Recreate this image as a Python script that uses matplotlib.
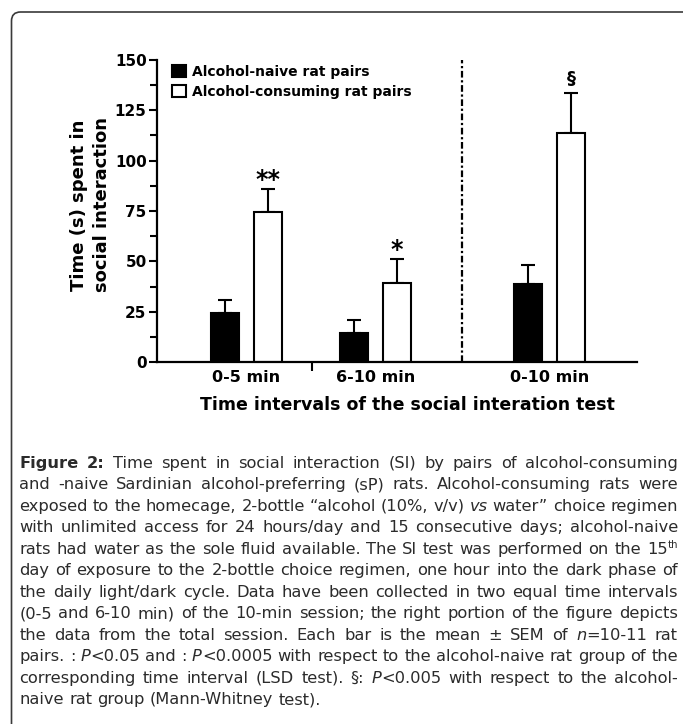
import re
import matplotlib
matplotlib.use('Agg')
import matplotlib.pyplot as plt
from matplotlib.patches import FancyBboxPatch, Patch
from matplotlib.ticker import MultipleLocator, FixedLocator, NullFormatter
from matplotlib.transforms import IdentityTransform

# ---------------- data ----------------
categories = ['0-5 min', '6-10 min', '0-10 min']
naive_mean = [24.5, 14.2, 38.7]
naive_sem = [6.3, 6.7, 9.3]
consuming_mean = [74.4, 39.4, 113.9]
consuming_sem = [11.5, 11.6, 19.9]
significance = ['**', '*', '§']
series_labels = ['Alcohol-naive rat pairs', 'Alcohol-consuming rat pairs']
y_ticks = [0, 25, 50, 75, 100, 125, 150]
x_label = 'Time intervals of the social interation test'
y_label = 'Time (s) spent in\nsocial interaction'

caption_lines = [
    '{b:Figure} {b:2:} Time spent in social interaction (SI) by pairs of alcohol-consuming',
    'and -naive Sardinian alcohol-preferring (sP) rats. Alcohol-consuming rats were',
    'exposed to the homecage, 2-bottle \u201calcohol (10%, v/v) {i:vs} water\u201d choice regimen',
    'with unlimited access for 24 hours/day and 15 consecutive days; alcohol-naive',
    'rats had water as the sole fluid available. The SI test was performed on the 15{s:th}',
    'day of exposure to the 2-bottle choice regimen, one hour into the dark phase of',
    'the daily light/dark cycle. Data have been collected in two equal time intervals',
    '(0-5 and 6-10 min) of the 10-min session; the right portion of the figure depicts',
    'the data from the total session. Each bar is the mean \u00b1 SEM of {i:n}=10-11 rat',
    'pairs. : {i:P}<0.05 and : {i:P}<0.0005 with respect to the alcohol-naive rat group of the',
    'corresponding time interval (LSD test). \u00a7: {i:P}<0.005 with respect to the alcohol-',
    'naive rat group (Mann-Whitney test).',
]

# ---------------- layout ----------------
W, H = 683, 724
plt.rcParams['font.family'] = ['DejaVu Sans']
fig = plt.figure(figsize=(W / 100, H / 100), dpi=100)

ax = fig.add_axes([157 / W, 362 / H, 480 / W, 302 / H])
group_pos = [1.0, 2.0, 3.35]
bar_w = 0.22
off = 0.167
divider_x = 2.67
between_tick = 1.508

x_naive = [g - off for g in group_pos]
x_cons = [g + off for g in group_pos]

ax.bar(x_naive, naive_mean, width=bar_w, color='black', edgecolor='black',
       linewidth=1.5, zorder=2)
ax.bar(x_cons, consuming_mean, width=bar_w, color='white', edgecolor='black',
       linewidth=1.5, zorder=2)
ax.errorbar(x_naive, naive_mean, yerr=[[0] * 3, naive_sem], fmt='none',
            ecolor='black', elinewidth=1.5, capsize=4.8, capthick=1.5, zorder=1)
ax.errorbar(x_cons, consuming_mean, yerr=[[0] * 3, consuming_sem], fmt='none',
            ecolor='black', elinewidth=1.5, capsize=4.8, capthick=1.5, zorder=1)

for xc, m, s, sig in zip(x_cons, consuming_mean, consuming_sem, significance):
    if sig == '§':
        ax.annotate(sig, xy=(xc, m + s), xytext=(0, 6.0), textcoords='offset points',
                    ha='center', va='baseline', fontsize=13, fontweight='bold')
    else:
        ax.annotate(sig, xy=(xc, m + s), xytext=(0, 1.8), textcoords='offset points',
                    ha='center', va='baseline', fontsize=17, fontweight='bold')

ax.axvline(divider_x, color='black', lw=1.6, linestyle=(0, (3, 1.2, 1, 1.2)), zorder=0)

ax.set_xlim(0.306, 4.027)
ax.set_ylim(0, 150)
ax.set_yticks(y_ticks)
ax.yaxis.set_minor_locator(MultipleLocator(12.5))
ax.set_xticks(group_pos)
ax.set_xticklabels(categories)
ax.xaxis.set_minor_locator(FixedLocator([between_tick]))
ax.xaxis.set_minor_formatter(NullFormatter())

for side in ['top', 'right']:
    ax.spines[side].set_visible(False)
for side in ['left', 'bottom']:
    ax.spines[side].set_linewidth(1.6)

ax.tick_params(axis='y', which='major', direction='out', length=6, width=1.5, pad=1.5,
               labelsize=11)
ax.tick_params(axis='y', which='minor', direction='out', length=5, width=1.5)
ax.tick_params(axis='x', which='major', length=0, pad=6, labelsize=11.5)
ax.tick_params(axis='x', which='minor', direction='out', length=6.5, width=1.5)
for lab in ax.get_xticklabels() + ax.get_yticklabels():
    lab.set_fontweight('bold')

ax.set_ylabel(y_label, fontsize=13, fontweight='bold', linespacing=1.35)
ax.yaxis.set_label_coords(-0.0967, 0.52)
ax.set_xlabel(x_label, fontsize=12.5, fontweight='bold')
ax.xaxis.set_label_coords(0.522, -0.112)

handles = [Patch(facecolor='black', edgecolor='black', linewidth=1.5),
           Patch(facecolor='white', edgecolor='black', linewidth=1.5)]
ax.legend(handles, series_labels, loc='upper left', bbox_to_anchor=(0.031, 0.985),
          frameon=False, borderpad=0, borderaxespad=0, handlelength=1.05,
          handleheight=1.05, handletextpad=0.4, labelspacing=0.42,
          prop={'weight': 'bold', 'size': 10})

# ---------------- border ----------------
border = FancyBboxPatch((11.5, -40), 740, 712 + 40, boxstyle='round,pad=0,rounding_size=9',
                        transform=IdentityTransform(), facecolor='none',
                        edgecolor='#3a3a3a', linewidth=1.2)
fig.add_artist(border)

# ---------------- caption (justified) ----------------
renderer = fig.canvas.get_renderer()
cap_fs = 11.7
cap_color = '#2b2b2b'
left_x, right_x = 19.5, 678.0
base0 = H - 467.8
line_step = 21.5


def seg_kwargs(kind):
    kw = dict(fontsize=cap_fs, color=cap_color)
    if kind == 'b':
        kw['fontweight'] = 'bold'
    elif kind == 'i':
        kw['fontstyle'] = 'italic'
    elif kind == 's':
        kw['fontsize'] = cap_fs * 0.62
    return kw


def parse_word(word):
    segs = []
    for m in re.finditer(r'\{([bis]):([^}]*)\}|([^{]+)', word):
        if m.group(3) is not None:
            segs.append(('r', m.group(3)))
        else:
            segs.append((m.group(1), m.group(2)))
    return segs


def make_word(segs, y):
    arts = []
    width = 0.0
    for kind, txt in segs:
        yy = y + (cap_fs * 0.5 if kind == 's' else 0)
        t = fig.text(0, yy, txt, transform=IdentityTransform(), ha='left',
                     va='baseline', **seg_kwargs(kind))
        w = t.get_window_extent(renderer).width
        arts.append((t, width))
        width += w
    return arts, width


probe1 = fig.text(0, 0, 'a a', fontsize=cap_fs)
probe2 = fig.text(0, 0, 'aa', fontsize=cap_fs)
space_w = probe1.get_window_extent(renderer).width - probe2.get_window_extent(renderer).width
probe1.remove()
probe2.remove()

for i, line in enumerate(caption_lines):
    y = base0 - i * line_step
    words = [make_word(parse_word(w), y) for w in line.split(' ')]
    total = sum(w for _, w in words)
    last = (i == len(caption_lines) - 1)
    gap = space_w if last else (right_x - left_x - total) / (len(words) - 1)
    x = left_x
    for arts, w in words:
        for t, dx in arts:
            t.set_x(x + dx)
        x += w + gap

fig.savefig('out.png', dpi=100)
